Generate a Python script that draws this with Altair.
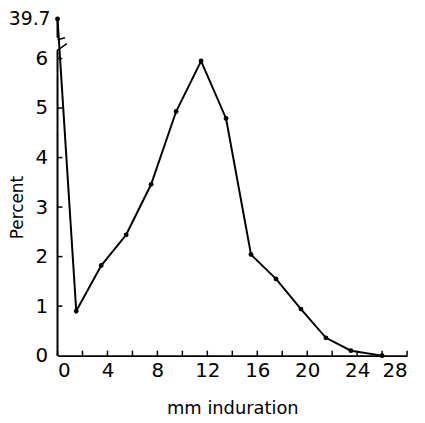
import altair as alt
import pandas as pd

# ---- data ----
induration_mm = [0, 1.5, 3.5, 5.5, 7.5, 9.5, 11.5, 13.5, 15.5, 17.5, 19.5, 21.5, 23.5, 26]
percent = [39.7, 0.9, 1.82, 2.44, 3.46, 4.93, 5.95, 4.79, 2.04, 1.55, 0.94, 0.36, 0.1, 0.0]
x_ticks = [0, 4, 8, 12, 16, 20, 24, 28]
x_minor = list(range(0, 29, 2))
y_ticks = [0, 1, 2, 3, 4, 5, 6]
break_value = 6.8          # where off-scale values are drawn
top_label = ["39.7"]

FONT = "DejaVu Sans"
W, H = 353, 300

df = pd.DataFrame({"x": induration_mm, "pct": percent})
df["label"] = [top_label[0] if p > 6 else "" for p in percent]

xs = alt.Scale(domain=[0, 28], nice=False)
ys = alt.Scale(domain=[0, 6], nice=False)

base = alt.Chart(df).transform_calculate(
    yd=f"datum.pct > 6 ? {break_value} : datum.pct"
)

line = base.mark_line(color="black", strokeWidth=2).encode(
    x=alt.X("x:Q", scale=xs, axis=alt.Axis(
        values=x_ticks, title="mm induration", grid=False, domain=True,
        domainColor="black", domainWidth=2, ticks=False, labelPadding=5,
        labelFont=FONT, labelFontSize=20, labelColor="black",
        titleFont=FONT, titleFontSize=18, titleFontWeight="normal",
        titleColor="black", titlePadding=19)),
    y=alt.Y("yd:Q", scale=ys, axis=alt.Axis(
        values=y_ticks, title="Percent", grid=False, domain=False,
        ticks=False, labelPadding=10,
        labelFont=FONT, labelFontSize=20, labelColor="black",
        titleFont=FONT, titleFontSize=17, titleFontWeight="normal",
        titleColor="black", titlePadding=9)),
)
pts = base.mark_circle(color="black", size=24, opacity=1).encode(
    x=alt.X("x:Q", scale=xs), y=alt.Y("yd:Q", scale=ys))

lbl = base.transform_filter("datum.pct > 6").mark_text(
    font=FONT, fontSize=19, align="right", baseline="middle", color="black"
).encode(x=alt.value(-7), y=alt.Y("yd:Q", scale=ys), text="label:N")

# broken y axis line and break marks
axis_segs = pd.DataFrame({"x": [0, 0], "x2": [0, 0], "y": [0, 6.42], "y2": [6.16, break_value]})
slashes = pd.DataFrame({"x": [0.0, -0.05], "x2": [0.6, 0.75], "y": [6.38, 6.16], "y2": [6.42, 6.30]})
axis_rule = alt.Chart(axis_segs).mark_rule(color="black", strokeWidth=2).encode(
    x=alt.X("x:Q", scale=xs), x2="x2:Q", y=alt.Y("y:Q", scale=ys), y2="y2:Q")
slash_rule = alt.Chart(slashes).mark_rule(color="black", strokeWidth=1.5).encode(
    x=alt.X("x:Q", scale=xs), x2="x2:Q", y=alt.Y("y:Q", scale=ys), y2="y2:Q")

# inward ticks
xt = alt.Chart(pd.DataFrame({"t": x_minor})).mark_rule(color="black", strokeWidth=1.5).encode(
    x=alt.X("t:Q", scale=xs), y=alt.value(H), y2=alt.value(H - 5))
yt = alt.Chart(pd.DataFrame({"t": y_ticks[1:]})).mark_rule(color="black", strokeWidth=1.5).encode(
    y=alt.Y("t:Q", scale=ys), x=alt.value(0), x2=alt.value(5))

chart = alt.layer(line, pts, lbl, axis_rule, slash_rule, xt, yt).properties(
    width=W, height=H,
    autosize=alt.AutoSizeParams(type="none"),
    padding={"left": 50, "top": 49, "right": 10, "bottom": 66},
).configure(background="white").configure_view(strokeWidth=0, stroke="transparent")

chart.save("out.html", embed_options={"renderer": "svg", "actions": False})
